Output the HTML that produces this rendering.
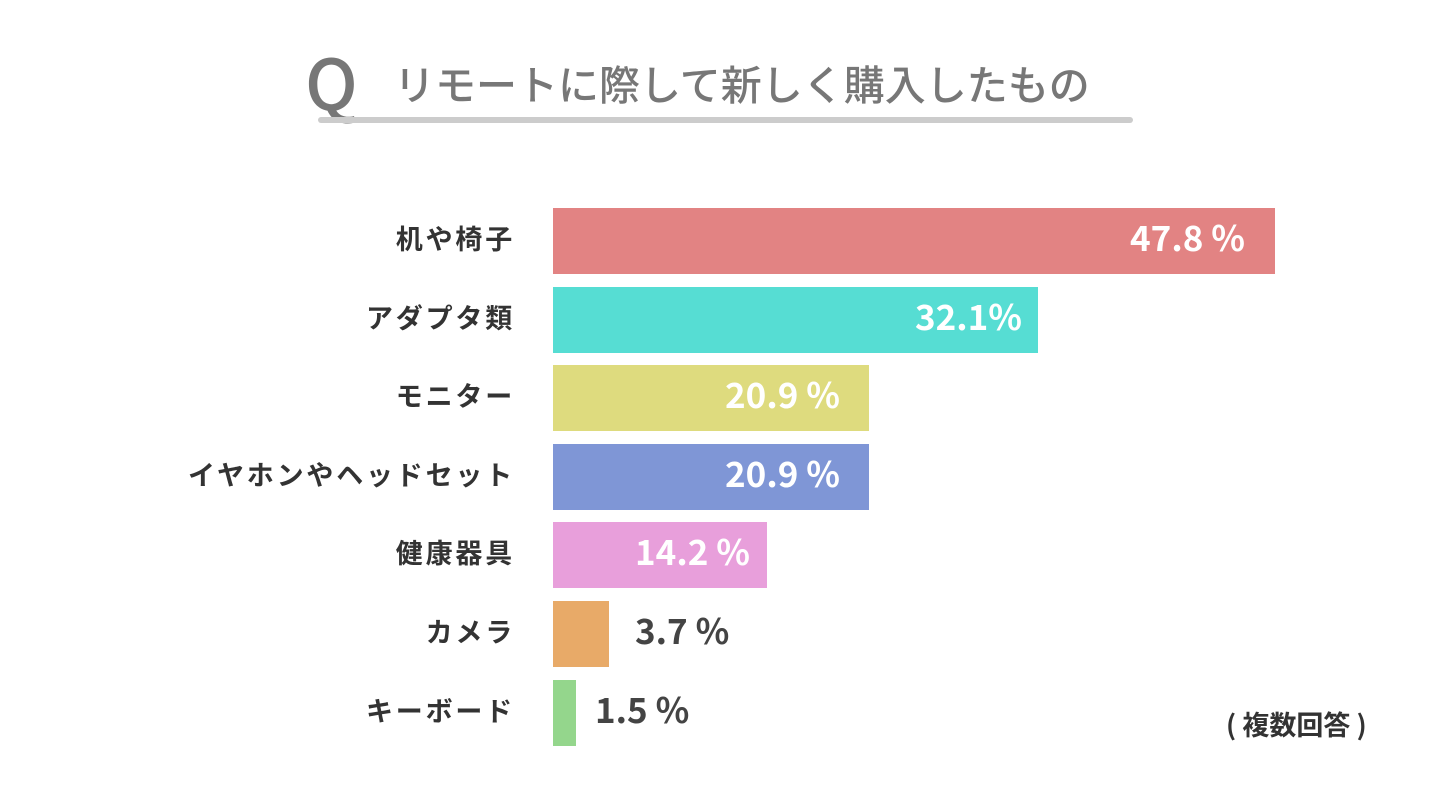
<!DOCTYPE html>
<html><head><meta charset="utf-8"><style>
body{margin:0;width:1440px;height:810px;background:#fff;position:relative;overflow:hidden;font-family:"Liberation Sans","Noto Sans CJK JP",sans-serif;}
.t{position:absolute;white-space:nowrap;}
.lab{position:absolute;right:925px;font-size:27px;font-weight:bold;color:#333;letter-spacing:2.8px;line-height:66px;white-space:nowrap;font-family:"Noto Sans CJK JP",sans-serif;}
.bar{position:absolute;left:553px;height:66px;}
.val{position:absolute;font-size:35px;font-weight:bold;line-height:66px;white-space:nowrap;font-family:"Noto Sans CJK JP",sans-serif;}
</style></head><body>
<div class="t" style="left:305px;top:36px;font-size:70px;color:#777;line-height:90px;font-family:'Noto Sans CJK JP',sans-serif;font-weight:500;">Q</div>
<div class="t" style="left:394px;top:52px;font-size:41px;color:#777;line-height:60px;font-family:'Noto Sans CJK JP',sans-serif;font-weight:500;">リモートに際して新しく購入したもの</div>
<div style="position:absolute;left:318px;top:117px;width:815px;height:6px;background:#ccc;border-radius:3px;"></div>

<div class="lab" style="top:205px">机や椅子</div>
<div class="bar" style="top:208px;width:722px;background:#e28383"></div>
<div class="val" style="top:204px;right:195px;color:#fff">47.8 %</div>

<div class="lab" style="top:284px">アダプタ類</div>
<div class="bar" style="top:287px;width:485px;background:#56ddd3"></div>
<div class="val" style="top:283px;right:418px;color:#fff">32.1%</div>

<div class="lab" style="top:362px">モニター</div>
<div class="bar" style="top:365px;width:316px;background:#dedb7e"></div>
<div class="val" style="top:361px;right:600px;color:#fff">20.9 %</div>

<div class="lab" style="top:441px">イヤホンやヘッドセット</div>
<div class="bar" style="top:444px;width:316px;background:#7f96d6"></div>
<div class="val" style="top:440px;right:600px;color:#fff">20.9 %</div>

<div class="lab" style="top:519px">健康器具</div>
<div class="bar" style="top:522px;width:214px;background:#e89fdb"></div>
<div class="val" style="top:518px;right:690px;color:#fff">14.2 %</div>

<div class="lab" style="top:598px">カメラ</div>
<div class="bar" style="top:601px;width:56px;background:#e8aa68"></div>
<div class="val" style="top:597px;left:635px;color:#444">3.7 %</div>

<div class="lab" style="top:677px">キーボード</div>
<div class="bar" style="top:680px;width:23px;background:#94d68c"></div>
<div class="val" style="top:676px;left:595px;color:#444">1.5 %</div>

<div class="t" style="left:1226px;top:704px;font-size:27px;font-weight:bold;color:#333;line-height:40px;font-family:'Noto Sans CJK JP',sans-serif;">( 複数回答 )</div>
</body></html>
